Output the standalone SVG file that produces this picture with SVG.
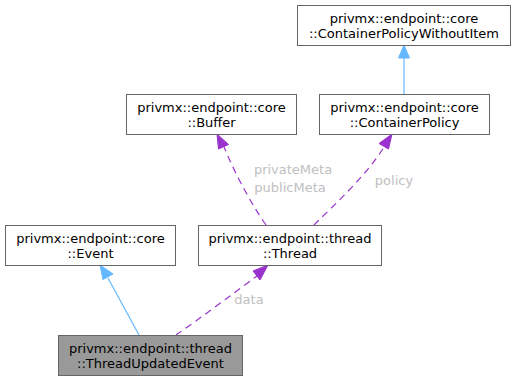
<svg xmlns="http://www.w3.org/2000/svg" width="517" height="381" viewBox="0 0 517 381">
<defs>
<style>
.node rect{fill:#ffffff;stroke:#666666;stroke-width:1}
.node.hl rect{fill:#999999}
.node text{font-family:"DejaVu Sans",sans-serif;font-size:13px;fill:#000000;text-anchor:middle}
.inh{fill:none;stroke:#63b8ff;stroke-width:1.2}
.use{fill:none;stroke:#9a32cd;stroke-width:1.2;stroke-dasharray:7,5}
.ah-inh{fill:#63b8ff;stroke:#63b8ff}
.ah-use{fill:#9a32cd;stroke:#9a32cd}
.lbl{font-family:"DejaVu Sans",sans-serif;font-size:13px;fill:#c0c0c0;text-anchor:middle}
</style>
</defs>
<rect width="517" height="381" fill="#ffffff"/>
<g id="connectors">
<path class="inh" d="M404,94 L404,58"/>
<polygon class="ah-inh" points="404,45 398.5,58 409.5,58"/>
<path class="inh" d="M139,335 L108,278"/>
<polygon class="ah-inh" points="100,265 103,279.5 113,274"/>
<path class="use" d="M266,225 C252,205 236,176 224,147"/>
<polygon class="ah-use" points="217,134 218.5,149 228.5,144.5"/>
<path class="use" d="M314,225 C336,203 366,176 384,147"/>
<polygon class="ah-use" points="392,134 379,143.5 388.5,149"/>
<path class="use" d="M176,335 C202,317 234,293 257,276"/>
<polygon class="ah-use" points="268,265 253,271 260,280"/>
<text class="lbl" x="293" y="174">privateMeta</text>
<text class="lbl" x="290" y="192">publicMeta</text>
<text class="lbl" x="394" y="185">policy</text>
<text class="lbl" x="249" y="304">data</text>
</g>
<g id="node-cpwi" class="node"><rect x="297.5" y="5.5" width="213" height="40"/><text x="404" y="23">privmx::endpoint::core</text><text x="404" y="37.5">::ContainerPolicyWithoutItem</text></g>
<g id="node-buffer" class="node"><rect x="126.5" y="94.5" width="170" height="40"/><text x="211.5" y="112">privmx::endpoint::core</text><text x="211.5" y="126.5">::Buffer</text></g>
<g id="node-cpolicy" class="node"><rect x="319.5" y="94.5" width="170" height="40"/><text x="404.5" y="112">privmx::endpoint::core</text><text x="404.5" y="126.5">::ContainerPolicy</text></g>
<g id="node-event" class="node"><rect x="5.5" y="225.5" width="170" height="40"/><text x="90.5" y="243">privmx::endpoint::core</text><text x="90.5" y="257.5">::Event</text></g>
<g id="node-thread" class="node"><rect x="198.5" y="225.5" width="183" height="40"/><text x="290" y="243">privmx::endpoint::thread</text><text x="290" y="257.5">::Thread</text></g>
<g id="node-tue" class="node hl"><rect x="58.5" y="335.5" width="184" height="40"/><text x="150.5" y="353">privmx::endpoint::thread</text><text x="150.5" y="367.5">::ThreadUpdatedEvent</text></g>
</svg>
